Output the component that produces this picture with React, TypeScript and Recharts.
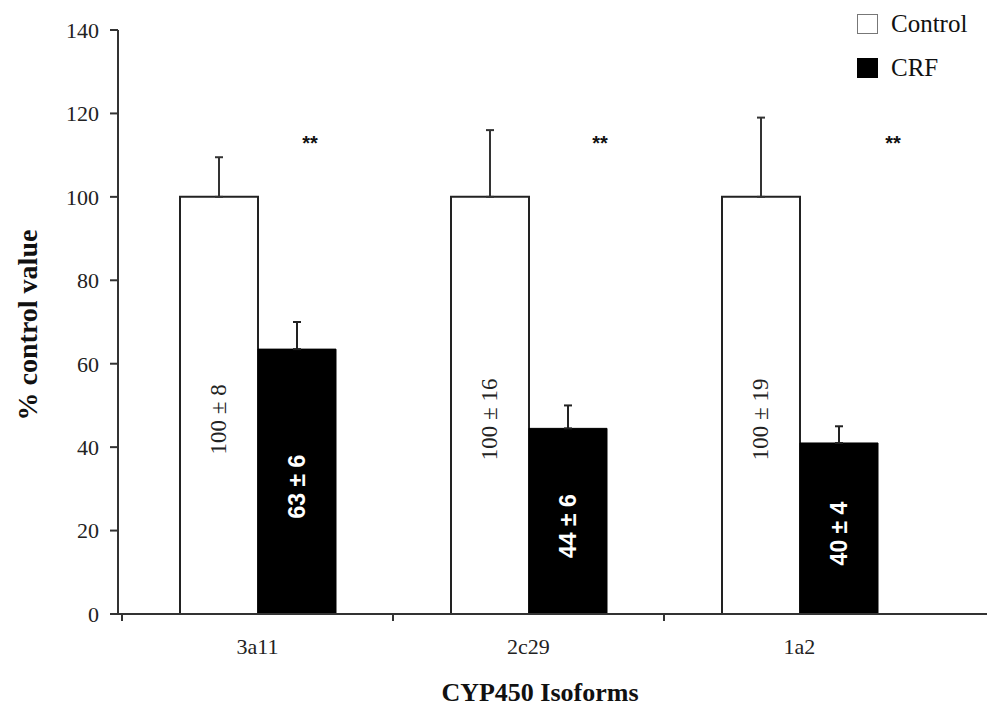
import { Bar, BarChart, ErrorBar, Label, LabelList, XAxis, YAxis } from "recharts";

const isoforms = ["3a11", "2c29", "1a2"];
const controlValues = [100, 100, 100];
const controlErrors = [9.5, 16, 19];
const crfValues = [63.5, 44.5, 41];
const crfErrors = [6.5, 5.5, 4];
const controlLabels = ["100 ± 8", "100 ± 16", "100 ± 19"];
const crfLabels = ["63 ± 6", "44 ± 6", "40 ± 4"];
const sigMarks = ["**", "**", "**"];
const sigLevel = 113;
const yTicks = [0, 20, 40, 60, 80, 100, 120, 140];

const data = isoforms.map((name, i) => ({
  name,
  control: controlValues[i],
  controlErr: [0, controlErrors[i]],
  controlLabel: controlLabels[i],
  crf: crfValues[i],
  crfErr: [0, crfErrors[i]],
  crfLabel: crfLabels[i],
  sig: sigMarks[i]
}));

const serif = "'Liberation Serif', 'Times New Roman', serif";
const sans = "'Liberation Sans', Arial, sans-serif";
const HALF_BAND = 135.5;
// asterisks sit a bit right of each CRF bar, not at a fixed spot
const sigShift = [13, 32, 54];

function IsoformTick({ x, y, payload }: any) {
  const axisY = y - 8;
  return (
    <g>
      <line x1={x - HALF_BAND} x2={x - HALF_BAND} y1={axisY} y2={axisY + 7} stroke="#333" strokeWidth={2} />
      <text x={x} y={y + 32} textAnchor="middle" fontFamily={serif} fontSize={22} fill="#222">
        {payload.value}
      </text>
    </g>
  );
}

function InsideLabel({ x, y, width, height, value, shift, color, family, weight }: any) {
  const cx = x + width / 2;
  const cy = y + height / 2 + shift;
  return (
    <text
      x={cx}
      y={cy}
      transform={`rotate(-90 ${cx} ${cy})`}
      textAnchor="middle"
      dominantBaseline="central"
      fontFamily={family}
      fontWeight={weight}
      fontSize={23}
      fill={color}
    >
      {value}
    </text>
  );
}

function SigLabel(props: any) {
  const { x, y, width, height, value, index } = props;
  const i = index ?? 0;
  const pxPerUnit = height / crfValues[i];
  const base = y + height;
  const cy = base - sigLevel * pxPerUnit;
  return (
    <text x={x + width / 2 + sigShift[i]} y={cy} textAnchor="middle" dominantBaseline="central" fontFamily={sans} fontWeight={700} fontSize={20} fill="#111">
      {value}
    </text>
  );
}

function LegendBox() {
  const items = [
    { name: "Control", fill: "#fff", stroke: "#777" },
    { name: "CRF", fill: "#000", stroke: "#000" }
  ];
  return (
    <div style={{ position: "absolute", left: 857, top: 2, fontFamily: serif, fontSize: 25, color: "#111" }}>
      {items.map((item) => (
        <div key={item.name} style={{ display: "flex", alignItems: "center", height: 44 }}>
          <span style={{ display: "inline-block", width: 21, height: 20, background: item.fill, border: `1.5px solid ${item.stroke}`, boxSizing: "border-box", marginRight: 13 }} />
          <span>{item.name}</span>
        </div>
      ))}
    </div>
  );
}

export default function App() {
  return (
    <div style={{ position: "absolute", left: 0, top: 0, width: 987, height: 707, background: "#fff" }}>
      <BarChart width={987} height={707} data={data} margin={{ top: 30, right: 0, left: 0, bottom: 33 }} barGap={0}>
        <XAxis
          dataKey="name"
          height={60}
          padding={{ left: 4, right: 52 }}
          tickLine={false}
          tickSize={6}
          tickMargin={2}
          tick={<IsoformTick />}
          axisLine={{ stroke: "#333", strokeWidth: 2 }}
        >
          <Label
            content={() => (
              <text x={540} y={701} textAnchor="middle" fontFamily={serif} fontWeight={700} fontSize={26} fill="#111">
                CYP450 Isoforms
              </text>
            )}
          />
        </XAxis>
        <YAxis
          width={118}
          domain={[0, 140]}
          ticks={yTicks}
          interval={0}
          tickSize={8}
          tickMargin={11}
          tick={{ fontFamily: serif, fontSize: 22, fill: "#222" }}
          tickLine={{ stroke: "#333", strokeWidth: 2 }}
          axisLine={{ stroke: "#333", strokeWidth: 2 }}
        >
          <Label
            content={() => (
              <text
                x={27}
                y={325}
                transform="rotate(-90 27 325)"
                textAnchor="middle"
                dominantBaseline="central"
                fontFamily={serif}
                fontWeight={700}
                fontSize={28}
                fill="#111"
              >
                % control value
              </text>
            )}
          />
        </YAxis>
        <Bar dataKey="control" barSize={78} fill="#fff" stroke="#222" strokeWidth={2} isAnimationActive={false}>
          <ErrorBar dataKey="controlErr" width={4} stroke="#333" strokeWidth={2} direction="y" />
          <LabelList
            dataKey="controlLabel"
            content={(p: any) => <InsideLabel {...p} shift={14} color="#222" family={serif} weight={400} />}
          />
        </Bar>
        <Bar dataKey="crf" barSize={78} fill="#000" stroke="#000" strokeWidth={1} isAnimationActive={false}>
          <ErrorBar dataKey="crfErr" width={4} stroke="#222" strokeWidth={2} direction="y" />
          <LabelList
            dataKey="crfLabel"
            content={(p: any) => <InsideLabel {...p} shift={5} color="#fff" family={sans} weight={700} />}
          />
          <LabelList dataKey="sig" content={<SigLabel />} />
        </Bar>
      </BarChart>
      <LegendBox />
    </div>
  );
}
